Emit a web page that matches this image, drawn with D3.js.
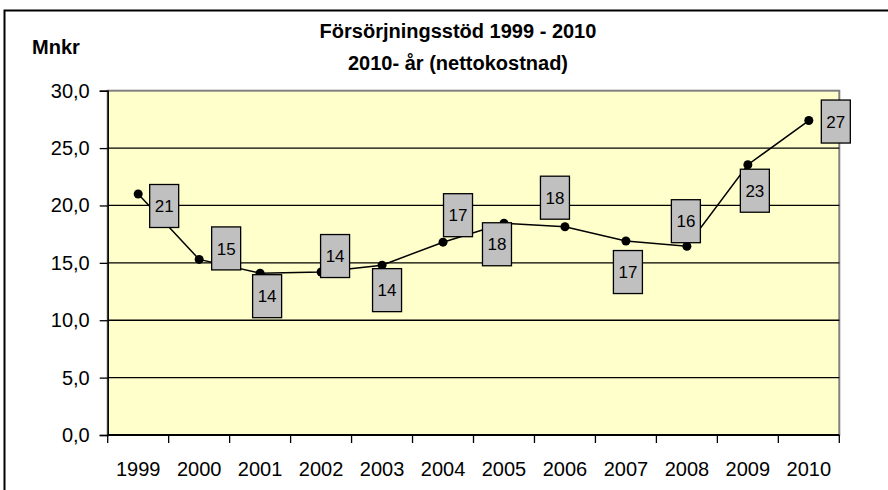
<!DOCTYPE html>
<html>
<head>
<meta charset="utf-8">
<script src="https://cdn.jsdelivr.net/npm/d3@7"></script>
<style>
  html, body { margin: 0; padding: 0; background: #ffffff; }
  svg { display: block; font-family: "Liberation Sans", Arial, sans-serif; }
</style>
</head>
<body>
<svg id="chart" width="888" height="490"></svg>
<script>
// ---- data ----
const years = ["1999","2000","2001","2002","2003","2004","2005","2006","2007","2008","2009","2010"];
const values = [21.0, 15.3, 14.1, 14.2, 14.8, 16.8, 18.45, 18.15, 16.9, 16.45, 23.55, 27.4];
const valueLabels = ["21","15","14","14","14","17","18","18","17","16","23","27"];
const yTicks = [0, 5, 10, 15, 20, 25, 30];
const titleLines = ["Försörjningsstöd 1999 - 2010", "2010- år (nettokostnad)"];
const yUnit = "Mnkr";

// ---- layout (pixels) ----
const labelOffsets = [[26,12],[27,-11],[7,23],[14,-16],[5,25],[15,-27],[-7,21],[-10,-29],[2,31],[-1,-25],[7,26],[27,1]];
const plot = { left: 107.7, right: 839.3, top: 90.7, bottom: 435 };

const svg = d3.select("#chart");

// outer frame
svg.append("rect")
  .attr("x", 4.5).attr("y", 10.5)
  .attr("width", 1000).attr("height", 1000)
  .attr("fill", "none").attr("stroke", "#000").attr("stroke-width", 2);

const x = d3.scaleBand().domain(years).range([plot.left, plot.right]);
const y = d3.scaleLinear().domain([0, 30]).range([plot.bottom, plot.top]);
const cx = d => x(d) + x.bandwidth() / 2;

// plot area
svg.append("rect")
  .attr("x", plot.left).attr("y", plot.top)
  .attr("width", plot.right - plot.left).attr("height", plot.bottom - plot.top)
  .attr("fill", "#FFFFCC").attr("stroke", "#808080").attr("stroke-width", 2);

// gridlines
svg.append("g").selectAll("line")
  .data(yTicks.filter(t => t > 0 && t < 30))
  .join("line")
  .attr("x1", plot.left).attr("x2", plot.right)
  .attr("y1", d => y(d)).attr("y2", d => y(d))
  .attr("stroke", "#000").attr("stroke-width", 1.3);

// y axis
const yAxis = svg.append("g")
  .attr("transform", `translate(${plot.left},0)`)
  .call(d3.axisLeft(y).tickValues(yTicks).tickSize(8).tickPadding(10)
    .tickFormat(d => d.toFixed(1).replace(".", ",")));
yAxis.select(".domain").attr("stroke", "#000").attr("stroke-width", 1.5);
yAxis.selectAll(".tick line").attr("stroke", "#000").attr("stroke-width", 1.3);
yAxis.selectAll(".tick text").attr("font-size", 20).attr("fill", "#000")
  .attr("font-family", "Liberation Sans, Arial, sans-serif");

// x axis
const xAxis = svg.append("g")
  .attr("transform", `translate(0,${plot.bottom})`)
  .call(d3.axisBottom(x).tickSize(0).tickPadding(27));
xAxis.select(".domain").remove();
xAxis.selectAll(".tick text").attr("font-size", 20).attr("fill", "#000")
  .attr("font-family", "Liberation Sans, Arial, sans-serif");
svg.append("line")
  .attr("x1", plot.left).attr("x2", plot.right)
  .attr("y1", plot.bottom).attr("y2", plot.bottom)
  .attr("stroke", "#000").attr("stroke-width", 2);
svg.append("g").selectAll("line")
  .data(d3.range(years.length + 1))
  .join("line")
  .attr("x1", i => plot.left + i * x.step()).attr("x2", i => plot.left + i * x.step())
  .attr("y1", plot.bottom).attr("y2", plot.bottom + 8)
  .attr("stroke", "#000").attr("stroke-width", 1.3);

// line
const pts = years.map((yr, i) => ({ yr, v: values[i], lab: valueLabels[i], off: labelOffsets[i] }));
svg.append("path")
  .datum(pts)
  .attr("d", d3.line().x(d => cx(d.yr)).y(d => y(d.v)))
  .attr("fill", "none").attr("stroke", "#000").attr("stroke-width", 1.5);

svg.append("g").selectAll("circle")
  .data(pts)
  .join("circle")
  .attr("cx", d => cx(d.yr)).attr("cy", d => y(d.v)).attr("r", 4.5)
  .attr("fill", "#000");

// data labels
const lg = svg.append("g").selectAll("g")
  .data(pts)
  .join("g")
  .attr("transform", d => `translate(${cx(d.yr) + d.off[0]},${y(d.v) + d.off[1]})`);
lg.append("rect")
  .attr("x", -14.5).attr("y", -21.5).attr("width", 29).attr("height", 43)
  .attr("fill", "#C0C0C0").attr("stroke", "#000").attr("stroke-width", 1.3);
lg.append("text")
  .attr("text-anchor", "middle").attr("dy", "0.36em")
  .attr("font-size", 17).attr("fill", "#000")
  .text(d => d.lab);

// titles
svg.append("g").selectAll("text")
  .data(titleLines)
  .join("text")
  .attr("x", 458).attr("y", (d, i) => 31 + i * 32).attr("dy", "0.36em")
  .attr("text-anchor", "middle").attr("font-weight", "bold").attr("font-size", 20)
  .attr("fill", "#000")
  .text(d => d);

svg.append("text")
  .attr("x", 32).attr("y", 47).attr("dy", "0.36em")
  .attr("font-weight", "bold").attr("font-size", 20).attr("fill", "#000")
  .text(yUnit);
</script>
</body>
</html>
